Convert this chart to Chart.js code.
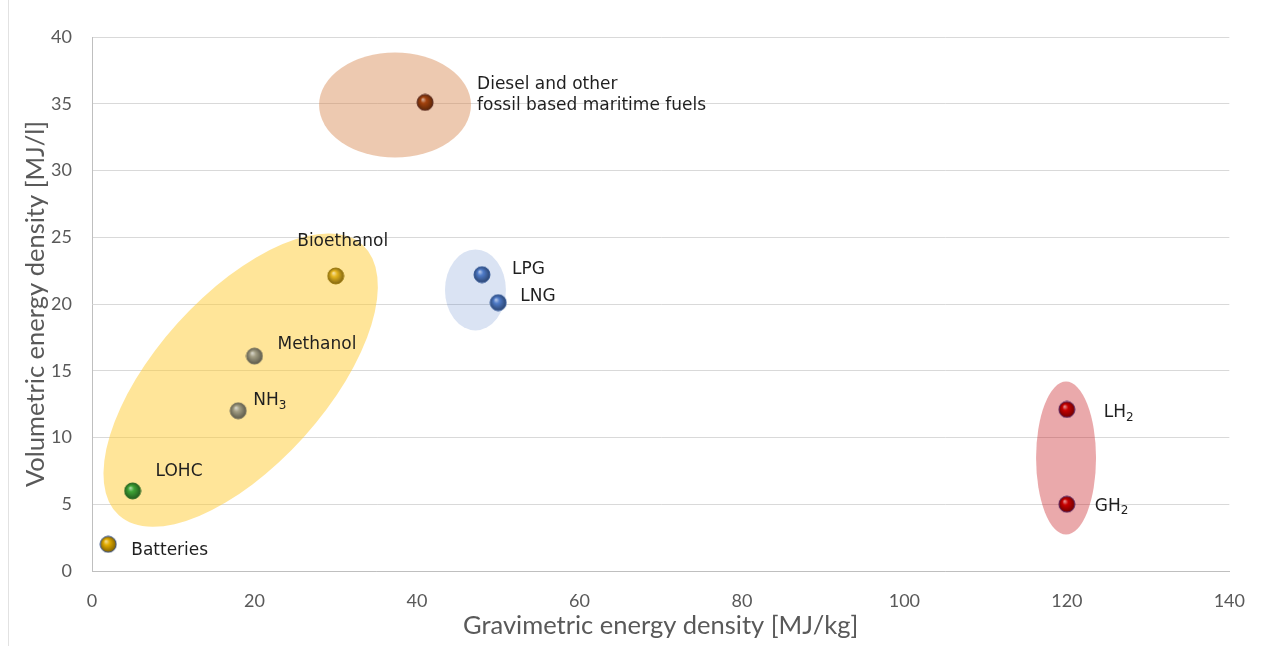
<!DOCTYPE html>
<html lang="en">
<head>
  <meta charset="UTF-8" />
  <title>Energy density of fuels</title>
  <script src="https://cdn.jsdelivr.net/npm/chart.js"></script>
  <style>
    body { margin: 0; background: #fff; }
    .wrap { position: relative; width: 1264px; height: 646px; }
  </style>
</head>
<body>
  <div class="wrap"><canvas id="energyChart" width="1264" height="646"></canvas></div>

  <script>
    // data
    const fuels = ["Batteries", "LOHC", "NH₃", "Methanol", "Bioethanol",
      "Diesel and other\nfossil based maritime fuels", "LPG", "LNG", "LH₂", "GH₂"];
    const gravimetric = [2, 5, 18, 20, 30, 41, 48, 50, 120, 120];   // MJ/kg
    const volumetric = [2, 6, 12, 16.1, 22.1, 35.1, 22.2, 20.1, 12.1, 5]; // MJ/l
    const xTicks = [0, 20, 40, 60, 80, 100, 120, 140];
    const yTicks = [0, 5, 10, 15, 20, 25, 30, 35, 40];

    // ball colours and label offsets (style, kept apart from values)
    const ballColors = ["#e3ad00", "#3fa536", "#a39e84", "#a39e84", "#e6b61e",
      "#a3420e", "#4f7bc8", "#4f7bc8", "#c80000", "#c80000"];
    const rimColors = ["#34508a", "#2b6b25", "#77735e", "#77735e", "#9c7a10",
      "#5a2a20", "#355a99", "#355a99", "#5b2a66", "#5b2a66"];
    const labelOffsets = [[23, 6, "left"], [23, -19, "left"], [15, -10, "left"], [23, -11, "left"],
      [7, -34, "center"], [52, -18, "left"], [30, -5, "left"], [22, -6, "left"],
      [37, 3, "left"], [28, 2, "left"]];

    // groups drawn as shaded ellipses: centre in data units, radii in axis units, rotation in degrees
    const groupEllipses = [
      { cx: 37.3, cy: 34.9, rx: 9.35, ry: 3.93, rot: 0, color: "rgba(214,135,80,0.45)" },
      { cx: 18.3, cy: 14.3, rx: 22.4, ry: 6.37, rot: 48, color: "rgba(255,204,51,0.5)" },
      { cx: 47.2, cy: 21.05, rx: 3.75, ry: 3.03, rot: 0, color: "rgba(68,114,196,0.2)" },
      { cx: 119.9, cy: 8.46, rx: 3.69, ry: 5.73, rot: 0, color: "rgba(200,30,35,0.38)" }
    ];

    function shade(hex, f) {
      const n = parseInt(hex.slice(1), 16);
      let r = n >> 16, g = (n >> 8) & 255, b = n & 255;
      if (f > 0) { r += (255 - r) * f; g += (255 - g) * f; b += (255 - b) * f; }
      else { r *= 1 + f; g *= 1 + f; b *= 1 + f; }
      return `rgb(${Math.round(r)},${Math.round(g)},${Math.round(b)})`;
    }

    function makeBall(color, rim) {
      const r = 8;
      const c = document.createElement("canvas");
      c.width = c.height = 2 * r + 2;
      const g = c.getContext("2d");
      const cx = r + 1, cy = r + 1;
      const grad = g.createRadialGradient(cx - r * 0.3, cy - r * 0.4, 0, cx, cy, r * 1.05);
      grad.addColorStop(0, shade(color, 0.65));
      grad.addColorStop(0.35, color);
      grad.addColorStop(0.85, shade(color, -0.35));
      grad.addColorStop(1, shade(color, -0.5));
      g.beginPath();
      g.arc(cx, cy, r, 0, Math.PI * 2);
      g.fillStyle = grad;
      g.fill();
      g.lineWidth = 1;
      g.strokeStyle = rim;
      g.stroke();
      return c;
    }

    const balls = ballColors.map((c, i) => makeBall(c, rimColors[i]));

    const subs = { "₀": "0", "₁": "1", "₂": "2", "₃": "3", "₄": "4", "₅": "5", "₆": "6", "₇": "7", "₈": "8", "₉": "9" };

    function drawRich(ctx, text, x, y, align, size) {
      const parts = [];
      for (const ch of text) {
        const sub = subs[ch] !== undefined;
        const last = parts[parts.length - 1];
        if (last && last.sub === sub) last.t += sub ? subs[ch] : ch;
        else parts.push({ t: sub ? subs[ch] : ch, sub });
      }
      const big = `${size}px "DejaVu Sans"`, small = `${Math.round(size * 0.68)}px "DejaVu Sans"`;
      let total = 0;
      parts.forEach(p => { ctx.font = p.sub ? small : big; p.w = ctx.measureText(p.t).width; total += p.w; });
      let px = align === "center" ? x - total / 2 : x;
      ctx.textAlign = "left";
      ctx.textBaseline = "middle";
      parts.forEach(p => {
        ctx.font = p.sub ? small : big;
        ctx.fillText(p.t, px, p.sub ? y + 5 : y);
        px += p.w;
      });
    }

    const frameLine = {
      id: "frameLine",
      beforeDraw(chart) {
        const ctx = chart.ctx;
        ctx.save();
        ctx.strokeStyle = "#e2e2e2";
        ctx.lineWidth = 1;
        ctx.beginPath();
        ctx.moveTo(8.5, 0);
        ctx.lineTo(8.5, chart.height);
        ctx.stroke();
        ctx.restore();
      }
    };

    const ellipses = {
      id: "ellipses",
      beforeDatasetsDraw(chart) {
        const { ctx, scales: { x, y } } = chart;
        const pxX = Math.abs(x.getPixelForValue(1) - x.getPixelForValue(0));
        const pxY = Math.abs(y.getPixelForValue(1) - y.getPixelForValue(0));
        ctx.save();
        groupEllipses.forEach(e => {
          ctx.beginPath();
          ctx.ellipse(x.getPixelForValue(e.cx), y.getPixelForValue(e.cy),
            e.rx * pxX, e.ry * pxY, -e.rot * Math.PI / 180, 0, Math.PI * 2);
          ctx.fillStyle = e.color;
          ctx.fill();
        });
        ctx.restore();
      }
    };

    const pointLabels = {
      id: "pointLabels",
      afterDatasetsDraw(chart) {
        const ctx = chart.ctx;
        const pts = chart.getDatasetMeta(0).data;
        ctx.save();
        ctx.fillStyle = "#1f1f1f";
        pts.forEach((p, i) => {
          const [dx, dy, align] = labelOffsets[i];
          fuels[i].split("\n").forEach((line, k) => {
            drawRich(ctx, line, p.x + dx, p.y + dy + k * 21, align, 17);
          });
        });
        ctx.restore();
      }
    };

    new Chart(document.getElementById("energyChart"), {
      type: "scatter",
      data: {
        labels: fuels,
        datasets: [{
          data: gravimetric.map((g, i) => ({ x: g, y: volumetric[i] })),
          pointStyle: balls,
          pointRadius: 8,
          backgroundColor: ballColors
        }]
      },
      options: {
        responsive: false,
        animation: false,
        events: [],
        layout: { padding: { left: 0, right: 34, top: 37, bottom: 0 } },
        plugins: { legend: { display: false }, tooltip: { enabled: false } },
        scales: {
          x: {
            type: "linear", min: 0, max: 140,
            afterBuildTicks: s => { s.ticks = xTicks.map(v => ({ value: v })); },
            afterFit: s => { s.height = 75; },
            grid: { display: false, drawTicks: false },
            border: { display: true, color: "#bfbfbf", width: 1 },
            ticks: { padding: 19, color: "#595959", font: { family: "Lato", size: 18 } },
            title: {
              display: true, text: "Gravimetric energy density [MJ/kg]",
              color: "#595959", font: { family: "Lato", size: 25.5 }, padding: { top: 0, bottom: 5 }
            }
          },
          y: {
            type: "linear", min: 0, max: 40,
            afterBuildTicks: s => { s.ticks = yTicks.map(v => ({ value: v })); },
            afterFit: s => { s.width = 92; },
            grid: { color: "#d9d9d9", drawTicks: false },
            border: { display: true, color: "#bfbfbf", width: 1 },
            ticks: { padding: 20, color: "#595959", font: { family: "Lato", size: 18 } },
            title: {
              display: true, text: "Volumetric energy density [MJ/l]",
              color: "#595959", font: { family: "Lato", size: 25.5 }, padding: { top: 20, bottom: 0 }
            }
          }
        }
      },
      plugins: [frameLine, ellipses, pointLabels]
    });
  </script>
</body>
</html>
